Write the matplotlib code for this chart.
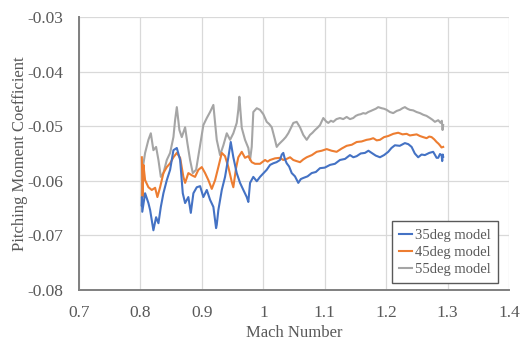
import matplotlib
matplotlib.use("Agg")
import matplotlib.pyplot as plt

# ---------------------------------------------------------------------------
# Data (Mach number vs pitching moment coeff.)
# ---------------------------------------------------------------------------
mach_35 = [0.8020, 0.8025, 0.8030, 0.8076, 0.8130, 0.8158, 0.8211, 0.8255,
           0.8293, 0.8332, 0.8374, 0.8429, 0.8483, 0.8537, 0.8592, 0.8646,
           0.8689, 0.8727, 0.8780, 0.8820, 0.8862, 0.8917, 0.8971, 0.9024,
           0.9080, 0.9133, 0.9187, 0.9231, 0.9242, 0.9268, 0.9324, 0.9377,
           0.9431, 0.9470, 0.9512, 0.9567, 0.9621, 0.9675, 0.9730, 0.9756,
           0.9784, 0.9837, 0.9893, 0.9946, 1.0055, 1.0110, 1.0163, 1.0215,
           1.0271, 1.0300, 1.0325, 1.0350, 1.0380, 1.0420, 1.0462, 1.0515,
           1.0569, 1.0610, 1.0650, 1.0720, 1.0787, 1.0855, 1.0922, 1.1000,
           1.1085, 1.1165, 1.1247, 1.1330, 1.1410, 1.1465, 1.1519, 1.1585,
           1.1654, 1.1710, 1.1763, 1.1830, 1.1898, 1.1965, 1.2033, 1.2085,
           1.2141, 1.2220, 1.2304, 1.2360, 1.2413, 1.2465, 1.2520, 1.2575,
           1.2629, 1.2700, 1.2764, 1.2795, 1.2820, 1.2846, 1.2875, 1.2901,
           1.2911, 1.2920, 1.2927]
cm_35 = [-0.0645, -0.0630, -0.0657, -0.0623, -0.0641, -0.0654, -0.0691, -0.0667,
         -0.0678, -0.0648, -0.0623, -0.0599, -0.0580, -0.0544, -0.0540, -0.0562,
         -0.0623, -0.0641, -0.0630, -0.0659, -0.0623, -0.0612, -0.0610, -0.0630,
         -0.0617, -0.0635, -0.0648, -0.0687, -0.0681, -0.0654, -0.0617, -0.0593,
         -0.0557, -0.0529, -0.0557, -0.0586, -0.0604, -0.0617, -0.0630, -0.0639,
         -0.0604, -0.0593, -0.0601, -0.0593, -0.0580, -0.0571, -0.0568, -0.0566,
         -0.0562, -0.0552, -0.0549, -0.0560, -0.0568, -0.0574, -0.0586, -0.0592,
         -0.0604, -0.0597, -0.0595, -0.0592, -0.0586, -0.0584, -0.0577, -0.0576,
         -0.0571, -0.0569, -0.0562, -0.0560, -0.0553, -0.0557, -0.0555, -0.0550,
         -0.0549, -0.0545, -0.0549, -0.0554, -0.0557, -0.0553, -0.0547, -0.0540,
         -0.0535, -0.0536, -0.0531, -0.0533, -0.0538, -0.0550, -0.0557, -0.0552,
         -0.0553, -0.0549, -0.0547, -0.0553, -0.0558, -0.0558, -0.0551, -0.0553,
         -0.0564, -0.0552, -0.0556]

mach_45 = [0.8023, 0.8036, 0.8049, 0.8076, 0.8130, 0.8185, 0.8239, 0.8276,
           0.8320, 0.8374, 0.8429, 0.8483, 0.8537, 0.8592, 0.8646, 0.8699,
           0.8727, 0.8780, 0.8836, 0.8889, 0.8943, 0.8998, 0.9052, 0.9106,
           0.9161, 0.9215, 0.9268, 0.9324, 0.9377, 0.9431, 0.9486, 0.9512,
           0.9556, 0.9593, 0.9649, 0.9702, 0.9756, 0.9811, 0.9865, 0.9946,
           1.0028, 1.0070, 1.0109, 1.0190, 1.0271, 1.0325, 1.0380, 1.0435,
           1.0488, 1.0540, 1.0597, 1.0650, 1.0706, 1.0790, 1.0868, 1.0950,
           1.1031, 1.1110, 1.1193, 1.1275, 1.1356, 1.1440, 1.1519, 1.1600,
           1.1681, 1.1735, 1.1789, 1.1845, 1.1898, 1.1965, 1.2033, 1.2115,
           1.2195, 1.2265, 1.2332, 1.2385, 1.2439, 1.2495, 1.2548, 1.2600,
           1.2657, 1.2700, 1.2738, 1.2780, 1.2820, 1.2850, 1.2873, 1.2900,
           1.2927]
cm_45 = [-0.0557, -0.0630, -0.0571, -0.0599, -0.0612, -0.0617, -0.0613, -0.0630,
         -0.0612, -0.0586, -0.0575, -0.0568, -0.0557, -0.0549, -0.0558, -0.0593,
         -0.0604, -0.0586, -0.0590, -0.0593, -0.0580, -0.0575, -0.0586, -0.0599,
         -0.0615, -0.0599, -0.0575, -0.0549, -0.0555, -0.0575, -0.0602, -0.0612,
         -0.0577, -0.0557, -0.0547, -0.0558, -0.0555, -0.0566, -0.0569, -0.0569,
         -0.0562, -0.0565, -0.0562, -0.0559, -0.0558, -0.0562, -0.0560, -0.0557,
         -0.0562, -0.0564, -0.0566, -0.0561, -0.0557, -0.0553, -0.0547, -0.0545,
         -0.0542, -0.0545, -0.0547, -0.0541, -0.0536, -0.0534, -0.0529, -0.0528,
         -0.0525, -0.0524, -0.0522, -0.0526, -0.0525, -0.0520, -0.0518, -0.0514,
         -0.0512, -0.0515, -0.0514, -0.0517, -0.0516, -0.0515, -0.0518, -0.0520,
         -0.0522, -0.0519, -0.0520, -0.0524, -0.0529, -0.0532, -0.0535, -0.0539,
         -0.0538]

mach_55 = [0.8023, 0.8033, 0.8076, 0.8130, 0.8169, 0.8211, 0.8255, 0.8293,
           0.8332, 0.8374, 0.8429, 0.8483, 0.8537, 0.8564, 0.8592, 0.8634,
           0.8673, 0.8727, 0.8764, 0.8808, 0.8852, 0.8906, 0.8971, 0.9024,
           0.9080, 0.9133, 0.9187, 0.9215, 0.9242, 0.9296, 0.9350, 0.9405,
           0.9459, 0.9512, 0.9567, 0.9593, 0.9610, 0.9649, 0.9702, 0.9756,
           0.9784, 0.9811, 0.9837, 0.9893, 0.9946, 1.0000, 1.0055, 1.0095,
           1.0137, 1.0190, 1.0218, 1.0245, 1.0271, 1.0325, 1.0365, 1.0406,
           1.0450, 1.0488, 1.0543, 1.0597, 1.0650, 1.0706, 1.0759, 1.0800,
           1.0841, 1.0880, 1.0922, 1.0976, 1.1020, 1.1057, 1.1100, 1.1138,
           1.1190, 1.1247, 1.1300, 1.1356, 1.1410, 1.1463, 1.1505, 1.1545,
           1.1585, 1.1626, 1.1665, 1.1707, 1.1750, 1.1789, 1.1830, 1.1870,
           1.1925, 1.1965, 1.2007, 1.2060, 1.2114, 1.2170, 1.2223, 1.2265,
           1.2304, 1.2345, 1.2385, 1.2440, 1.2494, 1.2550, 1.2602, 1.2655,
           1.2711, 1.2750, 1.2792, 1.2846, 1.2885, 1.2905, 1.2917, 1.2927]
cm_55 = [-0.0630, -0.0580, -0.0549, -0.0525, -0.0513, -0.0544, -0.0538, -0.0562,
         -0.0593, -0.0586, -0.0562, -0.0549, -0.0520, -0.0489, -0.0465, -0.0507,
         -0.0520, -0.0502, -0.0531, -0.0562, -0.0586, -0.0580, -0.0535, -0.0498,
         -0.0485, -0.0474, -0.0461, -0.0494, -0.0525, -0.0553, -0.0535, -0.0513,
         -0.0525, -0.0513, -0.0494, -0.0470, -0.0446, -0.0503, -0.0525, -0.0540,
         -0.0562, -0.0538, -0.0474, -0.0467, -0.0470, -0.0478, -0.0492, -0.0496,
         -0.0502, -0.0525, -0.0538, -0.0534, -0.0531, -0.0525, -0.0520, -0.0513,
         -0.0503, -0.0494, -0.0492, -0.0502, -0.0516, -0.0525, -0.0516, -0.0512,
         -0.0507, -0.0503, -0.0498, -0.0485, -0.0491, -0.0494, -0.0490, -0.0492,
         -0.0487, -0.0485, -0.0487, -0.0483, -0.0487, -0.0485, -0.0481, -0.0479,
         -0.0478, -0.0476, -0.0477, -0.0474, -0.0472, -0.0470, -0.0468, -0.0465,
         -0.0467, -0.0468, -0.0470, -0.0474, -0.0476, -0.0472, -0.0470, -0.0467,
         -0.0465, -0.0468, -0.0470, -0.0471, -0.0474, -0.0476, -0.0479, -0.0481,
         -0.0485, -0.0488, -0.0492, -0.0489, -0.0494, -0.0490, -0.0507, -0.0498]

series_labels = ["35deg model", "45deg model", "55deg model"]
x_ticks = [0.7, 0.8, 0.9, 1.0, 1.1, 1.2, 1.3, 1.4]
x_tick_labels = ["0.7", "0.8", "0.9", "1", "1.1", "1.2", "1.3", "1.4"]
y_ticks = [-0.08, -0.07, -0.06, -0.05, -0.04, -0.03]

# ---------------------------------------------------------------------------
# Figure
# ---------------------------------------------------------------------------
plt.rcParams['font.family'] = ['Liberation Serif', 'DejaVu Serif']

fig = plt.figure(figsize=(5.21, 3.41), dpi=100)
ax = fig.add_axes([0.1516, 0.1504, 0.8256, 0.7992])

colors = ["#4472C4", "#ED7D31", "#A5A5A5"]
ax.plot(mach_35, cm_35, color=colors[0], lw=1.5, label=series_labels[0], zorder=3)
ax.plot(mach_45, cm_45, color=colors[1], lw=1.5, label=series_labels[1], zorder=2)
ax.plot(mach_55, cm_55, color=colors[2], lw=1.5, label=series_labels[2], zorder=1)

ax.set_xlim(0.7, 1.4)
ax.set_ylim(-0.08, -0.03)
ax.set_xticks(x_ticks)
ax.set_xticklabels(x_tick_labels)
ax.set_yticks(y_ticks)
ax.set_yticklabels([f"{v:.2f}" for v in y_ticks])
ax.tick_params(length=0, labelsize=12.5, colors="#595959", pad=11)

ax.grid(True, color="#d9d9d9", lw=0.9)
ax.set_axisbelow(True)
for side in ["top", "right"]:
    ax.spines[side].set_visible(False)
for side in ["left", "bottom"]:
    ax.spines[side].set_color("#7f7f7f")
    ax.spines[side].set_linewidth(1.4)

ax.set_xlabel("Mach Number", fontsize=12, color="#595959", labelpad=3)
ax.set_ylabel("Pitching Moment Coefficient", fontsize=12, color="#595959", labelpad=0)

leg = ax.legend(loc="lower right", bbox_to_anchor=(0.974, 0.025), borderaxespad=0,
                fontsize=10.5, handlelength=0.9, handletextpad=0.2,
                fancybox=False, framealpha=1, labelspacing=0.25,
                borderpad=0.5)
leg.get_frame().set_edgecolor("#595959")
leg.get_frame().set_linewidth(1.0)
for t in leg.get_texts():
    t.set_color("#595959")

fig.savefig("out.png", dpi=100)
